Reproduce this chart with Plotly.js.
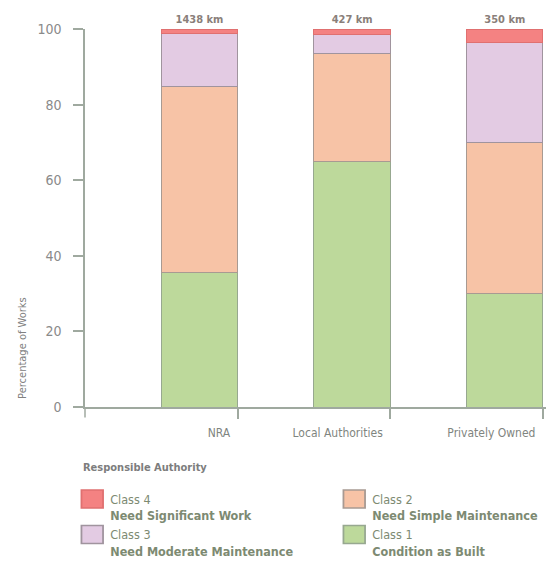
<!DOCTYPE html>
<html>
<head>
<meta charset="utf-8">
<script src="https://cdn.plot.ly/plotly-3.0.1.min.js"></script>
<style>
html,body{margin:0;padding:0;background:#fff;}
#chart{width:546px;height:586px;}
.legendpoints path{transform:translate(22px,0px) scale(1.8,1.5);}
</style>
</head>
<body>
<div id="chart"></div>
<script>
const categories = ["NRA", "Local Authorities", "Privately Owned"];
const lengthLabels = ["1438 km", "427 km", "350 km"];
const class1 = [35.5, 65.0, 30.0];
const class2 = [49.3, 28.6, 40.0];
const class3 = [14.0, 4.9, 26.3];
const class4 = [1.2, 1.5, 3.7];
const seriesNames = [
  "Class 1<br><b>Condition as Built</b>",
  "Class 2<br><b>Need Simple Maintenance</b>",
  "Class 3<br><b>Need Moderate Maintenance</b>",
  "Class 4<br><b>Need Significant Work</b>"
];
const seriesColors = ["#bdd99b", "#f7c3a6", "#e3cbe3", "#f48282"];
const lineColors = ["#97a890", "#a89a92", "#a0949e", "#e07070"];
const legendRanks = [4, 2, 3, 1];

const FONT = "'DejaVu Sans Condensed', 'Liberation Sans Narrow', sans-serif";
const values = [class1, class2, class3, class4];

const traces = values.map((v, i) => ({
  type: "bar",
  name: seriesNames[i],
  x: categories,
  y: v,
  width: 0.5,
  offset: -0.5,
  marker: {color: seriesColors[i], line: {color: lineColors[i], width: 1}},
  legendrank: legendRanks[i],
  text: i === 3 ? lengthLabels : undefined,
  textposition: i === 3 ? "outside" : "none",
  textangle: 0,
  outsidetextfont: {family: FONT, size: 11, color: "#8a7f7a", weight: "bold"},
  cliponaxis: false,
  hoverinfo: "x+y+name"
}));

const layout = {
  width: 546,
  height: 586,
  margin: {l: 85, r: 0, t: 29, b: 179, autoexpand: false},
  paper_bgcolor: "#ffffff",
  plot_bgcolor: "#ffffff",
  barmode: "stack",
  showlegend: true,
  font: {family: FONT, color: "#858585"},
  xaxis: {
    type: "category",
    range: [-1, 2.02],
    showline: true,
    linecolor: "#9fa99f",
    linewidth: 1.5,
    ticks: "outside",
    ticklen: 10,
    tickcolor: "#9fa99f",
    tickwidth: 1.5,
    showgrid: false,
    zeroline: false,
    ticklabelposition: "outside left",
    ticklabelshift: -6,
    ticklabelstandoff: 14,
    tickfont: {family: FONT, size: 12, color: "#7f8580"},
    fixedrange: true
  },
  yaxis: {
    range: [0, 100],
    tickvals: [0, 20, 40, 60, 80, 100],
    showline: true,
    linecolor: "#9fa99f",
    linewidth: 1.5,
    ticks: "outside",
    ticklen: 10,
    tickcolor: "#9fa99f",
    tickwidth: 1.5,
    ticklabelstandoff: 9,
    showgrid: false,
    zeroline: false,
    tickfont: {family: FONT, size: 14, color: "#8a8a8a"},
    fixedrange: true
  },
  legend: {
    orientation: "h",
    x: -0.032,
    xanchor: "left",
    y: -0.205,
    yanchor: "top",
    traceorder: "normal",
    entrywidth: 217,
    entrywidthmode: "pixels",
    valign: "top",
    font: {family: FONT, size: 12.5, color: "#7d8a72"},
    itemclick: false,
    itemdoubleclick: false
  },
  shapes: [
    {type: "line", xref: "paper", yref: "paper", x0: 0, x1: 0, y0: 0, y1: -0.028,
     line: {color: "#9fa99f", width: 1.5}}
  ],
  annotations: [
    {text: "Responsible Authority", xref: "paper", yref: "paper", x: -0.009, y: -0.159,
     xanchor: "left", yanchor: "middle", showarrow: false,
     font: {family: FONT, size: 11, color: "#7d7d7d", weight: "bold"}},
    {text: "Percentage of Works", xref: "paper", yref: "paper", x: -0.137, y: 0.156,
     xanchor: "center", yanchor: "middle", textangle: -90, showarrow: false,
     font: {family: FONT, size: 11, color: "#808080"}}
  ]
};

Plotly.newPlot("chart", traces, layout, {displayModeBar: false});
</script>
</body>
</html>
